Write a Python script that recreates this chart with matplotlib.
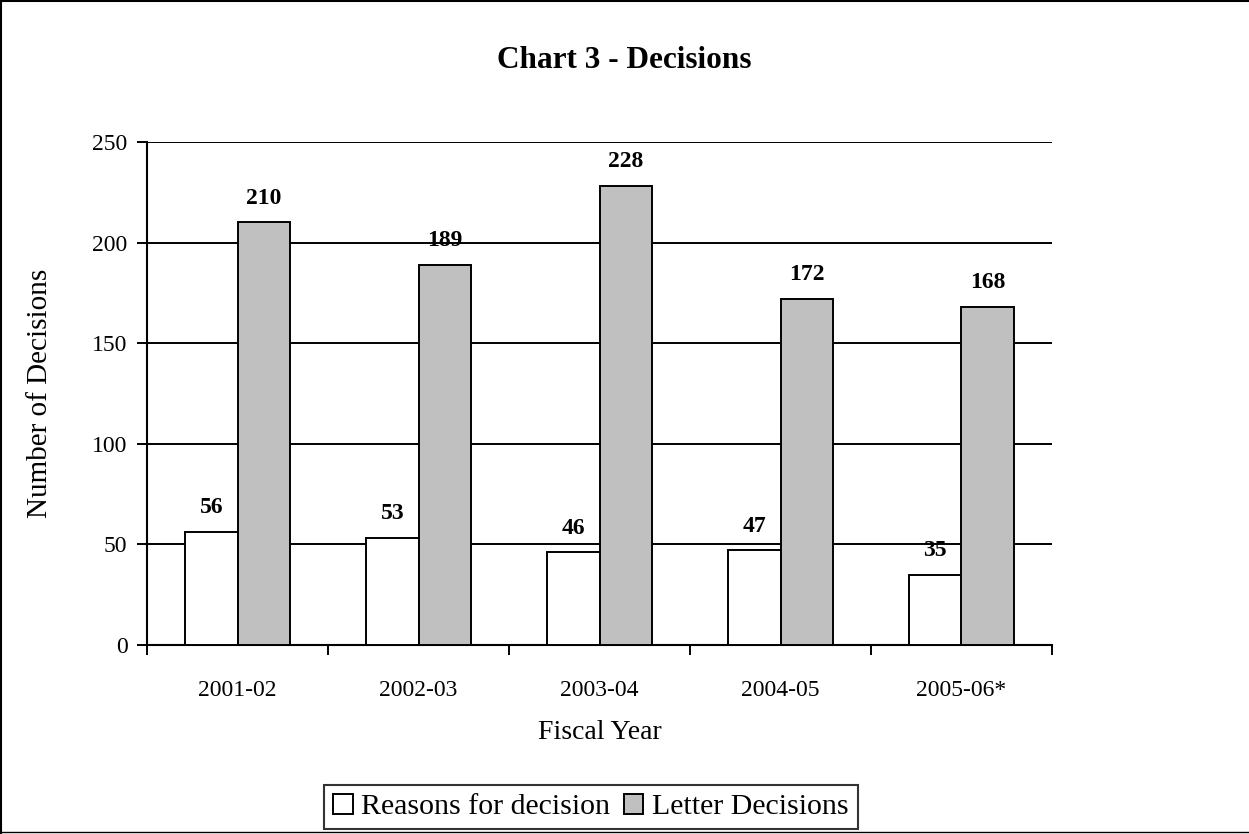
import matplotlib
matplotlib.use("Agg")
import matplotlib.pyplot as plt
from matplotlib.lines import Line2D
import numpy as np

categories = ["2001-02", "2002-03", "2003-04", "2004-05", "2005-06*"]
reasons = [56, 53, 46, 47, 35]
letters = [210, 189, 228, 172, 168]
series_names = ["Reasons for decision", "Letter Decisions"]
y_ticks = [0, 50, 100, 150, 200, 250]

plt.rcParams['font.family'] = ['Liberation Serif', 'DejaVu Serif']

W, H = 1249, 834
fig = plt.figure(figsize=(W / 100, H / 100), dpi=100)
fig.patch.set_facecolor('white')

ax = fig.add_axes([147 / W, 1 - 645 / H, (1052 - 147) / W, (645 - 142) / H])

x = np.arange(len(categories))
bw = 0.29
b1 = ax.bar(x - bw / 2, reasons, bw, color='white', edgecolor='black', linewidth=1.4, zorder=3,
            label=series_names[0])
b2 = ax.bar(x + bw / 2, letters, bw, color='#C0C0C0', edgecolor='black', linewidth=1.4, zorder=3,
            label=series_names[1])

for bars, vals in ((b1, reasons), (b2, letters)):
    for rect, v in zip(bars, vals):
        ax.annotate(str(v), (rect.get_x() + rect.get_width() / 2, v),
                    xytext=(0, 10), textcoords='offset points', ha='center', va='bottom',
                    fontsize=17, fontweight='bold', zorder=5)

ax.set_xlim(-0.5, len(categories) - 0.5)
ax.set_ylim(0, 250)
ax.set_yticks(y_ticks)
ax.yaxis.grid(True, color='black', linewidth=1.4, zorder=1)
ax.set_axisbelow(True)

ax.set_xticks(x)
ax.set_xticklabels(categories, fontsize=17)
ax.set_xticks(np.arange(-0.5, len(categories)), minor=True)
ax.tick_params(axis='x', which='major', length=0, pad=25)
ax.tick_params(axis='x', which='minor', length=7, width=1.4, direction='out', color='black')
ax.tick_params(axis='y', length=7, width=1.4, direction='out', pad=7, labelsize=17)

for s in ('top', 'right'):
    ax.spines[s].set_visible(False)
for s in ('left', 'bottom'):
    ax.spines[s].set_linewidth(1.5)
    ax.spines[s].set_color('black')

ax.set_xlabel("Fiscal Year", fontsize=20, labelpad=14)
ax.set_ylabel("Number of Decisions", fontsize=21, labelpad=28)

fig.text(624 / W, 1 - 60 / H, "Chart 3 - Decisions", ha='center', va='center',
         fontsize=22.5, fontweight='bold')

leg = ax.legend(loc='center', bbox_to_anchor=(591 / W, 1 - 807 / H), bbox_transform=fig.transFigure,
                ncol=2, fontsize=21.5, frameon=True, fancybox=False, edgecolor='black',
                handlelength=0.65, handleheight=0.65, handletextpad=0.3, columnspacing=0.45,
                borderpad=0.3, borderaxespad=0)
leg.get_frame().set_linewidth(1.5)

# outer frame (top, left, bottom)
fig.add_artist(Line2D([0, 1], [1 - 1 / H, 1 - 1 / H], transform=fig.transFigure, color='black', linewidth=1.5))
fig.add_artist(Line2D([1 / W, 1 / W], [0, 1], transform=fig.transFigure, color='black', linewidth=1.5))
fig.add_artist(Line2D([0, 1], [1 - 832 / H, 1 - 832 / H], transform=fig.transFigure, color='black', linewidth=1.0))

fig.savefig("out.png", dpi=100)
